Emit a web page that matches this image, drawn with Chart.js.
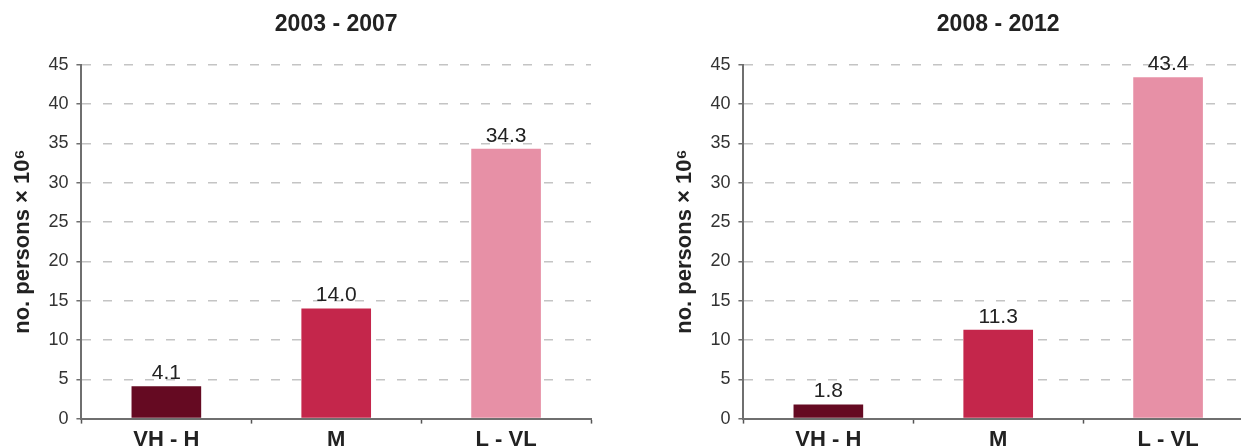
<!DOCTYPE html>
<html>
<head>
<meta charset="utf-8">
<script src="https://cdn.jsdelivr.net/npm/chart.js@4.4.1/dist/chart.umd.min.js"></script>
<style>
  html, body { margin: 0; padding: 0; background: #ffffff; overflow: hidden; width: 1241px; height: 448px; }
  .panel { position: absolute; top: 0; }
  #left { left: 0; }
  #right { left: 662px; }
</style>
</head>
<body>
<div class="panel" id="left"><canvas id="c1" width="600" height="470"></canvas></div>
<div class="panel" id="right"><canvas id="c2" width="600" height="470"></canvas></div>
<script>
// Population exposed per class, two periods
const categories = ['VH - H', 'M', 'L - VL'];
const values2003to2007 = [4.1, 14.0, 34.3];
const values2008to2012 = [1.8, 11.3, 43.4];
const periodTitles = ['2003 - 2007', '2008 - 2012'];
const yAxisTitle = 'no. persons \u00d7 10\u2076';
const yMin = 0, yMax = 45, yStep = 5;

const barColors = ['#650a22', '#c4264b', '#e790a6'];
const FONT = '"Liberation Sans", Arial, Helvetica, sans-serif';

// Writes each bar's value above it
const valueLabels = {
  id: 'valueLabels',
  afterDatasetsDraw(chart) {
    const ctx = chart.ctx;
    const meta = chart.getDatasetMeta(0);
    const data = chart.data.datasets[0].data;
    ctx.save();
    ctx.font = '21px ' + FONT;
    ctx.fillStyle = '#222222';
    ctx.textAlign = 'center';
    ctx.textBaseline = 'alphabetic';
    meta.data.forEach((bar, i) => {
      ctx.fillText(data[i].toFixed(1), bar.x, bar.y - 7);
    });
    ctx.restore();
  }
};

function makeChart(canvasId, title, values) {
  return new Chart(document.getElementById(canvasId), {
    type: 'bar',
    data: {
      labels: categories,
      datasets: [{
        data: values,
        backgroundColor: barColors,
        borderWidth: 0,
        categoryPercentage: 1.0,
        barPercentage: 0.41
      }]
    },
    options: {
      responsive: false,
      animation: false,
      events: [],
      layout: { padding: { left: 10, right: 9, top: 11, bottom: 14 } },
      plugins: {
        legend: { display: false },
        tooltip: { enabled: false },
        title: {
          display: true,
          fullSize: false,
          text: title,
          color: '#222222',
          font: { family: FONT, size: 23, weight: 'bold', lineHeight: 1.2 },
          padding: { top: 0, bottom: 26 }
        }
      },
      scales: {
        x: {
          offset: true,
          border: { display: true, color: '#6f6f6f', width: 2 },
          grid: {
            display: true,
            offset: true,
            drawOnChartArea: false,
            drawTicks: true,
            tickLength: 5,
            tickColor: '#555555',
            tickWidth: 1.5
          },
          ticks: {
            color: '#222222',
            padding: 3,
            font: { family: FONT, size: 22, weight: 'bold', lineHeight: 1.2 }
          }
        },
        y: {
          min: yMin,
          max: yMax,
          // in Chart.js v4 border.dash dashes the grid lines
          border: { display: true, color: '#6f6f6f', width: 2, dash: [9, 12] },
          grid: {
            color: '#c4c4c4',
            lineWidth: 1.5,
            drawTicks: true,
            tickLength: 5,
            tickColor: '#6f6f6f',
            tickWidth: 1.5,
            tickBorderDash: []
          },
          ticks: {
            stepSize: yStep,
            color: '#333333',
            padding: 8,
            font: { family: FONT, size: 18, lineHeight: 1.2 }
          },
          title: {
            display: true,
            text: yAxisTitle,
            color: '#222222',
            font: { family: FONT, size: 22, weight: 'bold', lineHeight: 1.2 },
            padding: { top: 0, bottom: 4 }
          }
        }
      }
    },
    plugins: [valueLabels]
  });
}

makeChart('c1', periodTitles[0], values2003to2007);
makeChart('c2', periodTitles[1], values2008to2012);
</script>
</body>
</html>
